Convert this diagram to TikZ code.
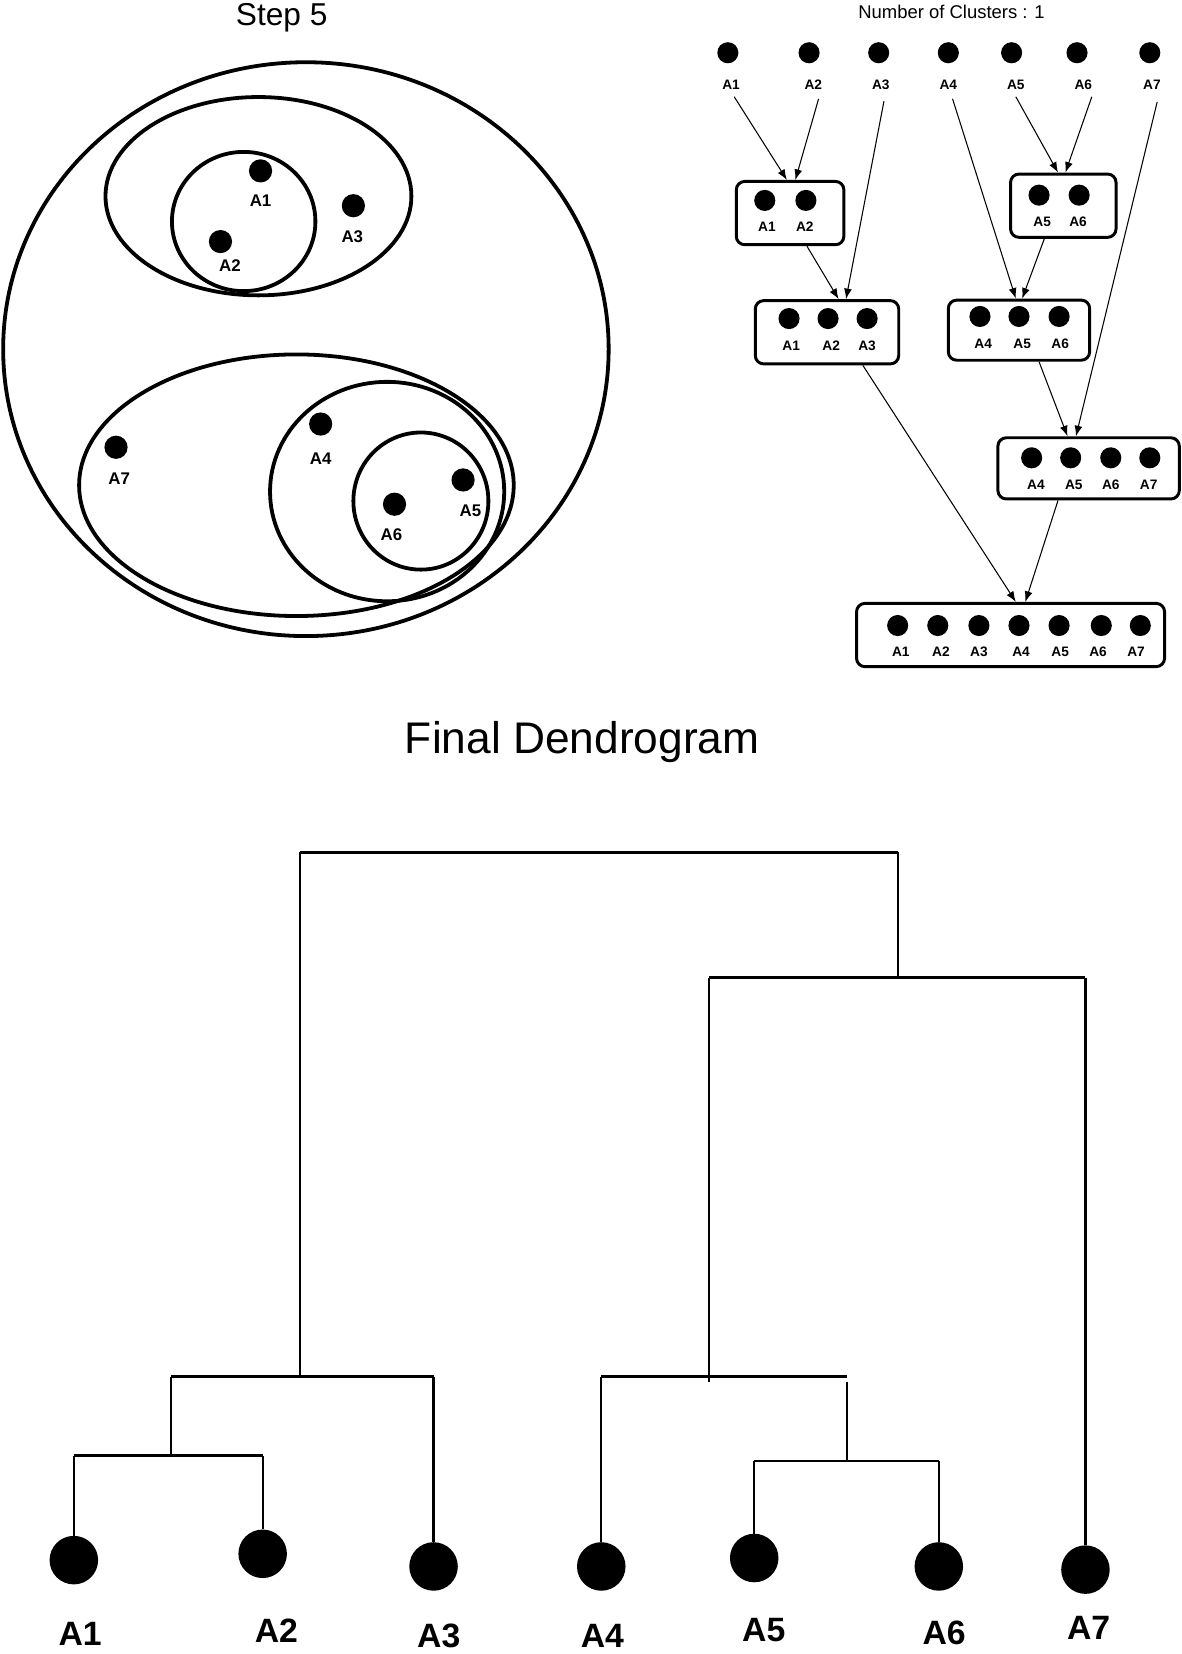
\documentclass[tikz,border=0pt]{standalone}
\usepackage{fontspec}
\setmainfont{Liberation Sans}
\usetikzlibrary{arrows.meta,calc}
\tikzset{
  ring/.style={line width=3.6pt},
  ldot/.style={circle,fill=black,inner sep=0pt,minimum size=22pt},
  llab/.style={font=\fontsize{16}{18}\selectfont\bfseries,inner sep=0pt},
  rdot/.style={circle,fill=black,inner sep=0pt,minimum size=20pt},
  rlab/.style={font=\fontsize{13}{15}\selectfont\bfseries,inner sep=0pt},
  cbox/.style={draw,line width=2.8pt,rounded corners=8pt,inner sep=0pt},
  arr/.style={-{Latex[length=10pt,width=7.5pt]},line width=1pt},
  ddot/.style={circle,fill=black,inner sep=0pt,minimum size=46pt},
  dlab/.style={font=\fontsize{32}{36}\selectfont\bfseries,inner sep=0pt},
  dline/.style={line width=2pt},
  hline/.style={line width=2.6pt}
}
\begin{document}
\begin{tikzpicture}[x=1pt,y=-1pt]
\useasboundingbox (0,0) rectangle (1120,1568);
% ---------------- Step 5 ----------------
\node[font=\fontsize{30}{36}\selectfont] (st5) at (267,17) {Step 5};
\draw[ring] (290,331) ellipse [x radius=287pt, y radius=272pt];
\draw[ring] (245,186) ellipse [x radius=145pt, y radius=94pt];
\draw[ring] (231,210) ellipse [x radius=68pt, y radius=66pt];
\draw[ring] (281,460) ellipse [x radius=206pt, y radius=124pt];
\draw[ring] (367,466) ellipse [x radius=111pt, y radius=104pt];
\draw[ring] (399,475) ellipse [x radius=64pt, y radius=65pt];
\node[ldot] (p1) at (247,162) {}; \node[llab] (q1) at (247,190) {A1};
\node[ldot] (p2) at (209,229) {}; \node[llab] (q2) at (218,252) {A2};
\node[ldot] (p3) at (335,195) {}; \node[llab] (q3) at (334,224) {A3};
\node[ldot] (p4) at (304,402) {}; \node[llab] (q4) at (304,435) {A4};
\node[ldot] (p5) at (439,455) {}; \node[llab] (q5) at (446,484) {A5};
\node[ldot] (p6) at (374,478) {}; \node[llab] (q6) at (371,507) {A6};
\node[ldot] (p7) at (110,424) {}; \node[llab] (q7) at (113,454) {A7};
% ---------------- Clusters ----------------
\node[font=\fontsize{17.5}{20}\selectfont] (nc) at (902,11) {Number of Clusters : 1};
\foreach \i/\x/\lx in {1/690/693,2/767/771,3/833/835,4/899/899,5/959/963,6/1021/1027,7/1090/1092}{
  \node[rdot] (s\i) at (\x,50) {};
  \node[rlab] (t\i) at (\lx,80) {A\i};
}
\node[cbox,minimum width=102pt,minimum height=60pt] (b12) at (749,202) {};
\node[cbox,minimum width=100pt,minimum height=60pt] (b56) at (1008,195) {};
\node[cbox,minimum width=136pt,minimum height=60pt] (b123) at (784,315) {};
\node[cbox,minimum width=134pt,minimum height=57pt] (b456) at (966,313) {};
\node[cbox,minimum width=172pt,minimum height=58pt] (b4567) at (1032,444) {};
\node[cbox,minimum width=292pt,minimum height=60pt] (ball) at (958,602) {};
% contents
\node[rdot] at (725,190) {}; \node[rlab] at (727,215) {A1};
\node[rdot] at (764,190) {}; \node[rlab] at (763,215) {A2};
\node[rdot] at (985,185) {}; \node[rlab] at (988,210) {A5};
\node[rdot] at (1023,185) {}; \node[rlab] at (1022,210) {A6};
\foreach \x/\lx/\n in {748/750/1,785/788/2,822/822/3}{
  \node[rdot] at (\x,302) {}; \node[rlab] at (\lx,328) {A\n};}
\foreach \x/\lx/\n in {929/932/4,966/969/5,1004/1005/6}{
  \node[rdot] at (\x,300) {}; \node[rlab] at (\lx,326) {A\n};}
\foreach \x/\lx/\n in {978/982/4,1015/1018/5,1053/1053/6,1090/1089/7}{
  \node[rdot] at (\x,434) {}; \node[rlab] at (\lx,460) {A\n};}
\foreach \x/\lx/\n in {851/854/1,889/892/2,928/928/3,966/968/4,1004/1005/5,1044/1041/6,1081/1077/7}{
  \node[rdot] at (\x,593) {}; \node[rlab] at (\lx,618) {A\n};}
% arrows
\draw[arr] ($(t1.south)+(3,7)$) -- ($(b12.north)+(-3,0)$);
\draw[arr] ($(t2.south)+(5,9)$) -- ($(b12.north)+(5,0)$);
\draw[arr] ($(t3.south)+(3,11)$) -- ($(b123.north)+(18,0)$);
\draw[arr] ($(b12.south)+(16,0)$) -- ($(b123.north)+(11,0)$);
\draw[arr] ($(t4.south)+(4,9)$) -- ($(b456.north)+(-3,0)$);
\draw[arr] ($(b56.south)+(-18,0)$) -- ($(b456.north)+(3,0)$);
\draw[arr] ($(t5.south)+(0,7)$) -- ($(b56.north)+(-5,0)$);
\draw[arr] ($(t6.south)+(8,7)$) -- ($(b56.north)+(2,0)$);
\draw[arr] ($(b456.south)+(19,0)$) -- ($(b4567.north)+(-20,0)$);
\draw[arr] ($(t7.south)+(5,12)$) -- ($(b4567.north)+(-12,0)$);
\draw[arr] ($(b123.south)+(34,0)$) -- ($(ball.north)+(5,0)$);
\draw[arr] ($(b4567.south)+(-29,0)$) -- ($(ball.north)+(14,0)$);
% ---------------- Final Dendrogram ----------------
\node[font=\fontsize{42}{48}\selectfont] (fd) at (552,703) {Final Dendrogram};
\node[ddot] (d1) at (70,1479) {};   \node[dlab] (e1) at (76,1549) {A1};
\node[ddot] (d2) at (249,1473) {};  \node[dlab] (e2) at (262,1546) {A2};
\node[ddot] (d3) at (411,1485) {};  \node[dlab] (e3) at (416,1551) {A3};
\node[ddot] (d4) at (570,1485) {};  \node[dlab] (e4) at (571,1551) {A4};
\node[ddot] (d5) at (715,1477) {};  \node[dlab] (e5) at (724,1545) {A5};
\node[ddot] (d6) at (890,1485) {};  \node[dlab] (e6) at (895,1548) {A6};
\node[ddot] (d7) at (1029,1488) {}; \node[dlab] (e7) at (1032,1543) {A7};
\coordinate (m12) at (162,1380);
\coordinate (m123) at (284,1305);
\coordinate (m56) at (803,1385);
\coordinate (m456) at (672,1305);
\coordinate (m4567) at (851,927);
\coordinate (mroot) at (567,808);
\draw[dline] (d1.north) -- (d1.north |- m12);
\draw[dline] (d2.north) -- (d2.north |- m12);
\draw[hline] (d1.north |- m12) -- (d2.north |- m12);
\draw[dline] (m12) -- (m12 |- m123);
\draw[hline] (m12 |- m123) -- (d3.north |- m123);
\draw[dline] (d3.north |- m123) -- (d3.north);
\draw[dline] (d5.north) -- (d5.north |- m56);
\draw[dline] (d6.north) -- (d6.north |- m56);
\draw[hline] (d5.north |- m56) -- (d6.north |- m56);
\draw[dline] (d4.north) -- (d4.north |- m456);
\draw[hline] (d4.north |- m456) -- (m456 -| m56);
\draw[dline] ($(m456 -| m56)+(0,5)$) -- (m56);
\draw[dline] ($(m456)+(0,5)$) -- (m456 |- m4567);
\draw[hline] (m456 |- m4567) -- (d7.north |- m4567);
\draw[dline] (d7.north |- m4567) -- (d7.north);
\draw[dline] (m123) -- (m123 |- mroot);
\draw[hline] (m123 |- mroot) -- (m4567 |- mroot);
\draw[dline] (m4567 |- mroot) -- (m4567);
\end{tikzpicture}
\end{document}
